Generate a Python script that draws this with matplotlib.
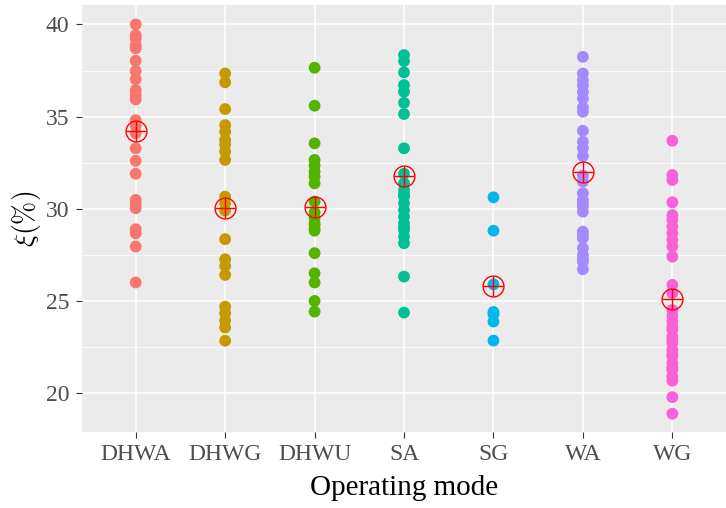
import matplotlib
matplotlib.use("Agg")
import matplotlib.pyplot as plt
import numpy as np

plt.rcParams['font.family'] = ['Liberation Serif', 'DejaVu Serif']
plt.rcParams['mathtext.fontset'] = 'cm'

modes = ["DHWA", "DHWG", "DHWU", "SA", "SG", "WA", "WG"]
colors = ["#F8766D", "#C49A00", "#53B400", "#00C094", "#00B6EB", "#A58AFF", "#FB61D7"]

dhwa = [40.0, 39.42, 39.24, 38.88, 38.7, 38.03, 37.47, 37.03, 36.44, 36.17, 35.93,
        34.81, 34.5, 34.1, 33.28, 32.6, 31.9, 30.48, 30.26, 30.03, 28.89, 28.67, 27.95, 26.0]
dhwg = [37.34, 36.86, 35.41, 34.54, 34.18, 33.73, 33.46, 33.1, 32.65, 30.66, 30.3,
        29.9, 28.35, 27.26, 26.9, 26.41, 24.69, 24.33, 23.93, 23.56, 22.84]
dhwu = [37.65, 35.59, 33.55, 32.65, 32.34, 32.01, 31.74, 31.38, 30.39, 29.8, 29.5,
        29.21, 29.1, 28.9, 28.81, 27.59, 26.5, 26.0, 25.0, 24.42]
sa = [38.34, 38.01, 37.4, 36.71, 36.35, 35.75, 35.14, 33.28, 31.9, 31.38, 31.02,
      30.8, 30.66, 30.3, 29.93, 29.57, 29.21, 29.0, 28.85, 28.49, 28.13, 26.32, 24.37]
sg = [30.62, 28.81, 25.9, 24.4, 24.28, 23.88, 22.85]
wa = [38.24, 37.34, 36.98, 36.71, 36.35, 35.99, 35.5, 35.26, 34.23, 33.64, 33.28,
      32.86, 31.8, 31.47, 30.84, 30.48, 30.3, 30.11, 29.84, 28.76, 28.6, 28.4, 27.86,
      27.5, 27.3, 27.13, 26.72]
wg = [33.69, 31.83, 31.56, 30.35, 29.66, 29.39, 29.03, 28.67, 28.31, 27.95, 27.4,
      25.87, 25.42, 24.51, 24.2, 23.88, 23.6, 23.43, 23.07, 22.9, 22.71, 22.35, 22.1,
      21.98, 21.63, 21.4, 21.26, 20.9, 20.67, 19.78, 18.88]

groups = [dhwa, dhwg, dhwu, sa, sg, wa, wg]

fig, ax = plt.subplots(figsize=(7.26, 5.08), dpi=100)
fig.subplots_adjust(left=0.113, right=1.0, top=0.990, bottom=0.150)
ax.set_facecolor("#EBEBEB")

# raw points
for i, (vals, c) in enumerate(zip(groups, colors)):
    x = np.full(len(vals), i + 1)
    ax.scatter(x, vals, s=72, color=c, edgecolors="none", zorder=3)

# group means: circle with a cross
for i, vals in enumerate(groups):
    m = np.mean(vals)
    ax.plot(i + 1, m, marker="o", markersize=15, markerfacecolor="none",
            markeredgecolor="red", markeredgewidth=1.0, zorder=4)
    ax.plot(i + 1, m, marker="+", markersize=15, color="red",
            markeredgewidth=1.0, zorder=4)

ax.set_xlim(0.4, 7.6)
ax.set_ylim(17.9, 41.05)
ax.set_xticks(range(1, 8))
ax.set_xticklabels(modes)
ax.set_yticks([20, 25, 30, 35, 40])
ax.set_yticks([22.5, 27.5, 32.5, 37.5], minor=True)

ax.grid(which="major", color="white", linewidth=1.1, zorder=0)
ax.grid(which="minor", axis="y", color="white", linewidth=0.55, zorder=0)
ax.set_axisbelow(True)
for sp in ax.spines.values():
    sp.set_visible(False)

ax.tick_params(axis="both", which="major", length=4, width=0.8, color="#333333",
               labelsize=17, labelcolor="#4D4D4D", pad=5)
ax.tick_params(axis="both", which="minor", length=0)

ax.set_xlabel("Operating mode", fontsize=21, labelpad=7)
ax.set_ylabel(r"$\xi(\%)$", fontsize=20, labelpad=2)

fig.savefig("out.png", dpi=100)
